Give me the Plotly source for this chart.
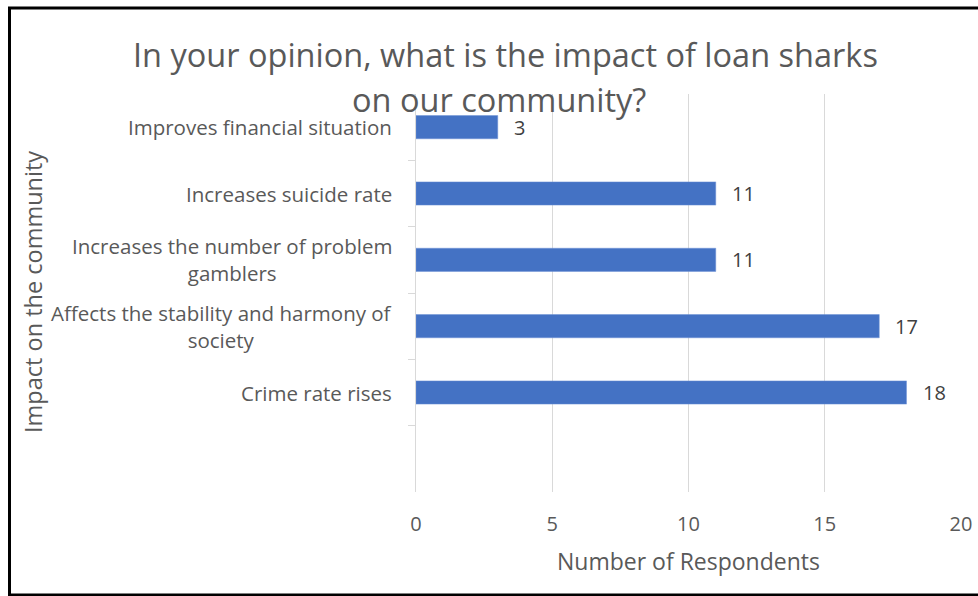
import plotly.graph_objects as go

categories = ["Crime rate rises",
              "Affects the stability and harmony of<br>society",
              "Increases the number of problem<br>gamblers",
              "Increases suicide rate",
              "Improves financial situation"]
values = [18, 17, 11, 11, 3]
x_ticks = [0, 5, 10, 15, 20]

FONT = "Open Sans"
GRAY = "#595959"
W, H = 978, 596
L, R, T, B = 416, 17, 94, 104
PW, PH = W - L - R, H - T - B


def px_x(p):
    return (p - L) / PW


def px_y(p):
    return 1 - (p - T) / PH


fig = go.Figure()
fig.add_trace(go.Bar(
    y=categories, x=values, orientation="h",
    marker=dict(color="#4472C4", line=dict(color="#6f93d6", width=0.5)),
    width=0.35,
))

annotations = []
for c in categories:
    annotations.append(dict(
        x=0, xref="paper", y=c, yref="y", text=c, showarrow=False,
        xanchor="right", yanchor="middle", align="center", xshift=-22,
        font=dict(family=FONT, size=20.5, color=GRAY)))

for c, v in zip(categories, values):
    annotations.append(dict(
        x=v, xref="x", y=c, yref="y", text=str(v), showarrow=False,
        xanchor="left", yanchor="middle", xshift=14,
        font=dict(family=FONT, size=20, color="#404040")))

annotations.append(dict(
    x=px_x(505), xref="paper", y=px_y(55), yref="paper",
    text="In your opinion, what is the impact of loan sharks",
    showarrow=False, xanchor="center", yanchor="middle",
    font=dict(family=FONT, size=32.5, color=GRAY)))
annotations.append(dict(
    x=px_x(499), xref="paper", y=px_y(99), yref="paper",
    text="on our community?",
    showarrow=False, xanchor="center", yanchor="middle",
    font=dict(family=FONT, size=32.5, color=GRAY)))

annotations.append(dict(
    x=px_x(33), xref="paper", y=px_y(292), yref="paper",
    text="Impact on the community", textangle=-90,
    showarrow=False, xanchor="center", yanchor="middle",
    font=dict(family=FONT, size=23.5, color=GRAY)))
annotations.append(dict(
    x=px_x(688), xref="paper", y=px_y(561), yref="paper",
    text="Number of Respondents",
    showarrow=False, xanchor="center", yanchor="middle",
    font=dict(family=FONT, size=23, color=GRAY)))

fig.update_layout(
    width=W, height=H,
    margin=dict(l=L, r=R, t=T, b=B, autoexpand=False),
    paper_bgcolor="white", plot_bgcolor="white",
    showlegend=False,
    annotations=annotations,
    xaxis=dict(range=[0, 20], tickvals=x_ticks, showgrid=True,
               gridcolor="#d9d9d9", gridwidth=1, zeroline=False,
               showline=False, ticks="", ticklabelstandoff=18,
               automargin=False,
               tickfont=dict(family=FONT, size=20, color=GRAY),
               title=None),
    yaxis=dict(type="category", range=[-1.5, 4.5], showticklabels=False,
               tickson="boundaries", ticks="outside", ticklen=7,
               tickcolor="#d9d9d9", showline=True, linecolor="#d9d9d9",
               linewidth=1, showgrid=False, zeroline=False,
               automargin=False, title=None),
    shapes=[dict(type="rect", xref="paper", yref="paper",
                 x0=px_x(9.5), x1=px_x(985), y0=px_y(595), y1=px_y(8),
                 line=dict(color="black", width=3), fillcolor="rgba(0,0,0,0)")],
)

fig.write_html("out.html")
